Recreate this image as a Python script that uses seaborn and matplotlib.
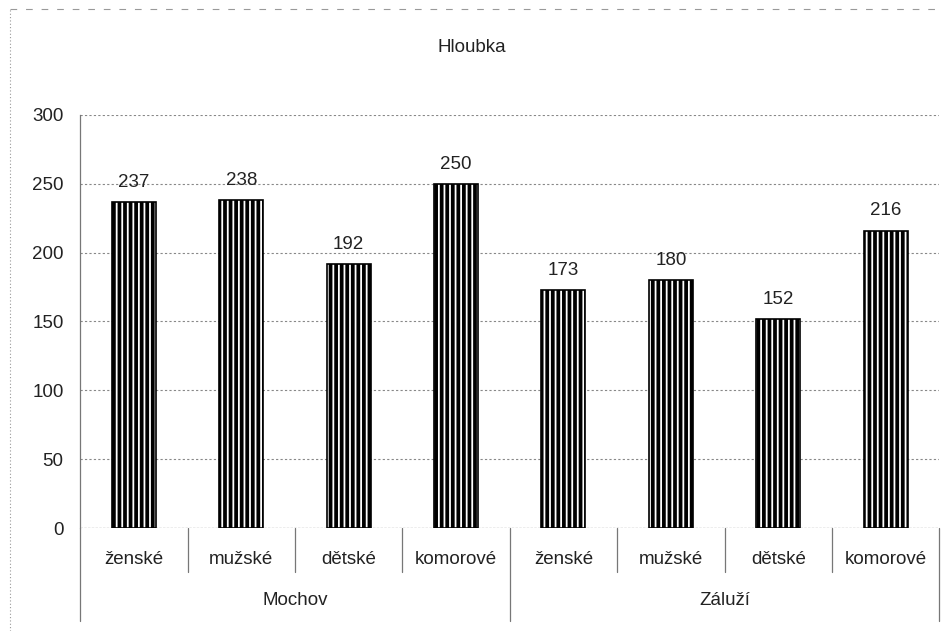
import matplotlib
matplotlib.use("Agg")
import matplotlib.pyplot as plt
import pandas as pd
import seaborn as sns
from matplotlib.lines import Line2D

# --- data ---
groups = ["Mochov"] * 4 + ["Záluží"] * 4
categories = ["ženské", "mužské", "dětské", "komorové"] * 2
values = [237, 238, 192, 250, 173, 180, 152, 216]
yticks = [0, 50, 100, 150, 200, 250, 300]

df = pd.DataFrame({"group": groups, "cat": categories, "value": values})
df["key"] = [f"{g}|{c}" for g, c in zip(df["group"], df["cat"])]

sns.set_style("white")
plt.rcParams["font.family"] = ["Liberation Sans", "DejaVu Sans"]
plt.rcParams["hatch.linewidth"] = 2.7
plt.rcParams["hatch.color"] = "black"

FS = 13.5
TXT = "#222222"

fig = plt.figure(figsize=(9.44, 6.31), dpi=100)
ax = fig.add_axes([0.085, 0.163, 0.91, 0.655])

sns.barplot(data=df, x="key", y="value", order=list(df["key"]), color="white",
            edgecolor="black", linewidth=1.2, width=0.41, ax=ax)
for p in ax.patches:
    p.set_hatch("|||")

for i, v in enumerate(values):
    ax.annotate(str(v), (i, v), xytext=(0, 8), textcoords="offset points",
                ha="center", va="bottom", fontsize=FS, color=TXT)

ax.set_ylim(0, 300)
ax.set_xlim(-0.5, 7.5)
ax.set_yticks(yticks)
ax.set_yticklabels([str(t) for t in yticks], fontsize=FS, color=TXT)
ax.tick_params(axis="y", length=0, pad=12)
ax.set_xticks([])
ax.set_xlabel("")
ax.set_ylabel("")
ax.grid(False)
for y in yticks[1:]:
    ax.axhline(y, color="#888888", lw=0.8, ls=(0, (2, 2)), zorder=0)
ax.axhline(0, color="#777777", lw=0.9, ls=(0, (2, 1)), zorder=0)
for s in ["top", "right", "bottom"]:
    ax.spines[s].set_visible(False)
ax.spines["left"].set_color("#777777")
ax.spines["left"].set_linewidth(0.9)

# two-level category axis
trans = ax.get_xaxis_transform()
for i, c in enumerate(categories):
    ax.text(i, -0.075, c, transform=trans, ha="center", va="center",
            fontsize=FS, color=TXT)
for j, g in enumerate(["Mochov", "Záluží"]):
    ax.text(1.5 + 4 * j, -0.175, g, transform=trans, ha="center", va="center",
            fontsize=FS, color=TXT)
for b in range(9):
    x = b - 0.5
    low = -0.225 if b % 4 == 0 else -0.105
    ax.add_line(Line2D([x, x], [0, low], transform=trans, color="#777777",
                       lw=0.9, clip_on=False))

fig.text(0.5, 0.924, "Hloubka", ha="center", va="center", fontsize=FS,
         color=TXT)

# outer chart-area frame (dotted, as on the scan)
fig.add_artist(Line2D([0.011, 0.011], [0.0, 0.985], transform=fig.transFigure,
                      color="#999999", lw=0.8, ls=(0, (1, 2))))
fig.add_artist(Line2D([0.011, 0.99], [0.985, 0.985], transform=fig.transFigure,
                      color="#999999", lw=0.8, ls=(0, (6, 8))))

fig.savefig("out.png", dpi=100, facecolor="white")
